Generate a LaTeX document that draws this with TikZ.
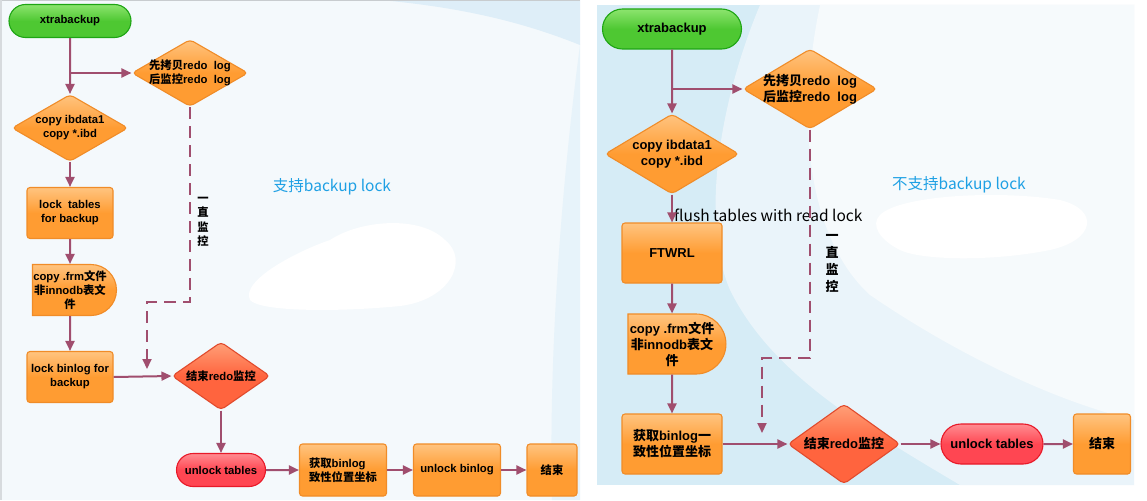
\documentclass[tikz,border=0pt]{standalone}
\usepackage{fontspec}
\setmainfont{Liberation Sans}
\newfontfamily\cjk{Noto Sans CJK SC}
\newcommand\zh[1]{{\cjk #1}}
\usetikzlibrary{shapes.geometric,shapes.misc,arrows.meta,calc}
\definecolor{arrc}{RGB}{160,78,110}
\definecolor{obord}{RGB}{240,140,40}
\definecolor{otop}{RGB}{255,196,128}
\definecolor{omid}{RGB}{255,156,50}
\definecolor{gbord}{RGB}{30,165,20}
\definecolor{gtop}{RGB}{140,228,110}
\definecolor{gmid}{RGB}{78,200,50}
\definecolor{rbord}{RGB}{232,25,40}
\definecolor{rtop}{RGB}{255,140,145}
\definecolor{rmid}{RGB}{255,70,82}
\definecolor{dbord}{RGB}{225,75,45}
\definecolor{dtop}{RGB}{255,160,120}
\definecolor{dmid}{RGB}{255,100,62}
\definecolor{bluet}{RGB}{30,160,228}
\definecolor{lbg}{RGB}{244,249,252}
\definecolor{lband}{RGB}{222,238,248}
\definecolor{rbg}{RGB}{214,236,246}
\definecolor{rlight}{RGB}{234,244,250}
\definecolor{rwhite}{RGB}{246,250,252}
\tikzset{
  arr/.style={draw=arrc, line width=2pt, -{Triangle[length=10pt,width=9pt]}},
  dasharr/.style={arr, dash pattern=on 12pt off 7pt},
  basebox/.style={draw, line width=1.1pt, text=black, align=center, inner sep=1pt},
  lf/.style={font=\bfseries\fontsize{11.3}{14}\selectfont},
  rf/.style={font=\bfseries\fontsize{13}{16}\selectfont},
  obox/.style={basebox, draw=obord, top color=otop, bottom color=omid, middle color=omid, rounded corners=3pt},
  ofrm/.style={basebox, draw=obord, top color=otop, bottom color=omid, middle color=omid, rounded rectangle, rounded rectangle west arc=none},
  gpill/.style={basebox, draw=gbord, top color=gtop, bottom color=gmid, middle color=gmid, rounded rectangle},
  rpill/.style={basebox, draw=rbord, top color=rtop, bottom color=rmid, middle color=rmid, rounded rectangle},
  odiam/.style={basebox, draw=obord, top color=otop, bottom color=omid, middle color=omid, diamond, inner sep=0pt, rounded corners=4pt},
  rdiam/.style={basebox, draw=dbord, top color=dtop, bottom color=dmid, middle color=dmid, diamond, inner sep=0pt, rounded corners=4pt},
  ldt/.style={text=black, align=center, lf},
  rdt/.style={text=black, align=center, rf},
  vtext/.style={text=black, align=center, inner sep=0pt},
  btext/.style={text=bluet, font=\cjk\fontsize{15.5}{17}\selectfont, inner sep=0pt},
}
\begin{document}
\begin{tikzpicture}[x=1pt,y=-1pt]
\useasboundingbox (0,0) rectangle (1147,500);
\fill[white] (0,0) rectangle (1147,500);
% left panel background
\fill[lbg] (0,0) rectangle (580,500);
\fill[lband] (380,0) .. controls (470,8) and (530,25) .. (580,45) -- (580,0) -- cycle;
\fill[lband!60!lbg] (580,45) .. controls (566,150) and (548,330) .. (552,500) -- (580,500) -- cycle;
\fill[black!18!lbg] (0,0) rectangle (580,1.5);
\fill[black!12!lbg] (0,0) rectangle (1.5,500);
\fill[white] (250,300) .. controls (240,280) and (300,250) .. (330,240) .. controls (360,220) and (420,215) .. (445,240) .. controls (470,260) and (450,300) .. (400,306) .. controls (340,312) and (260,312) .. (250,300) -- cycle;
% right panel background
\fill[rbg] (597,5) rectangle (1134,485);
\fill[rlight] (760,5) .. controls (720,100) and (700,220) .. (730,290) .. controls (770,370) and (850,420) .. (960,485) -- (1134,485) -- (1134,5) -- cycle;
\fill[rwhite] (820,5) .. controls (790,150) and (820,250) .. (870,295) .. controls (950,350) and (1050,400) .. (1134,420) -- (1134,5) -- cycle;
\fill[white] (880,215) .. controls (900,195) and (1000,190) .. (1060,200) .. controls (1100,210) and (1095,240) .. (1050,250) .. controls (990,262) and (920,260) .. (900,250) .. controls (880,240) and (870,225) .. (880,215) -- cycle;

% ---------- left panel ----------
\node[gpill, lf, minimum width=124pt, minimum height=33pt] (xb1) at (70,21) {xtrabackup};
\node[odiam, minimum width=116pt, minimum height=67pt,
  label={[ldt]center:{\zh{先拷贝}redo~ log\\\zh{后监控}redo~ log}}] (redo1) at (190,73) {};
\node[odiam, minimum width=116pt, minimum height=67pt,
  label={[ldt]center:{copy ibdata1\\copy *.ibd}}] (cp1) at (70,128) {};
\node[obox, lf, minimum width=86pt, minimum height=51pt] (lt1) at (70,213) {lock~ tables\\for backup};
\node[ofrm, lf, minimum width=86pt, minimum height=51pt] (frm1) at (70,290) {copy .frm\zh{文件}\\\zh{非}innodb\zh{表文}\\\zh{件}};
\node[obox, lf, minimum width=86pt, minimum height=51pt] (lb1) at (70,377) {lock binlog for\\backup};
\node[rdiam, minimum width=98pt, minimum height=68pt,
  label={[ldt]center:{\zh{结束}redo\zh{监控}}}] (end1) at (221,376) {};
\node[rpill, lf, minimum width=91pt, minimum height=33pt] (ul1) at (221,470) {unlock tables};
\node[obox, lf, align=left, minimum width=87pt, minimum height=52pt] (gb1) at (343,470) {\zh{获取}binlog\\\zh{致性位置坐标}};
\node[obox, lf, minimum width=87pt, minimum height=52pt] (ub1) at (457,470) {unlock binlog};
\node[obox, lf, minimum width=50pt, minimum height=52pt] (fin1) at (552,470) {\zh{结束}};
\node[vtext, font=\cjk\bfseries\fontsize{11.3}{14.5}\selectfont] (mon1) at (203,222) {一\\直\\监\\控};
\node[btext] (t1) at (332,187) {支持backup lock};

\draw[arr] (xb1) -- (cp1);
\draw[arr] (xb1.south |- redo1.west) -- (redo1.west);
\draw[arr] (cp1) -- (lt1);
\draw[arr] (lt1) -- (frm1);
\draw[arr] (frm1) -- (lb1);
\draw[arr] (lb1.east) -- (end1.west);
\draw[arr] (end1) -- (ul1);
\draw[arr] (ul1) -- (gb1);
\draw[arr] (gb1) -- (ub1);
\draw[arr] (ub1) -- (fin1);
\coordinate (dk1) at (147,302);
\coordinate (dt1) at (147,369);
\draw[dasharr] (redo1.south) |- (dk1) -- (dt1);

% ---------- right panel ----------
\node[gpill, rf, minimum width=141pt, minimum height=40pt] (xb2) at (672,29) {xtrabackup};
\node[odiam, minimum width=134pt, minimum height=80pt,
  label={[rdt]center:{\zh{先拷贝}redo~ log\\\zh{后监控}redo~ log}}] (redo2) at (810,89) {};
\node[odiam, minimum width=134pt, minimum height=80pt,
  label={[rdt]center:{copy ibdata1\\copy *.ibd}}] (cp2) at (672,154) {};
\node[obox, rf, minimum width=100pt, minimum height=60pt] (ft2) at (672,253) {FTWRL};
\node[ofrm, rf, minimum width=100pt, minimum height=60pt] (frm2) at (672,344) {copy .frm\zh{文件}\\\zh{非}innodb\zh{表文}\\\zh{件}};
\node[obox, rf, minimum width=100pt, minimum height=60pt] (gb2) at (672,444) {\zh{获取}binlog\zh{一}\\\zh{致性位置坐标}};
\node[rdiam, minimum width=112pt, minimum height=80pt,
  label={[rdt]center:{\zh{结束}redo\zh{监控}}}] (end2) at (844,444) {};
\node[rpill, rf, minimum width=104pt, minimum height=40pt] (ul2) at (992,444) {unlock tables};
\node[obox, rf, minimum width=57pt, minimum height=60pt] (fin2) at (1102,444) {\zh{结束}};
\node[vtext, font=\cjk\bfseries\fontsize{13}{17}\selectfont] (mon2) at (832,263) {一\\直\\监\\控};
\node[btext] (t2) at (959,185) {不支持backup lock};
\node[anchor=west, inner sep=0pt, text=black, font=\cjk\fontsize{15.5}{17}\selectfont] (fl2) at (674,215) {flush tables with read lock};

\draw[arr] (xb2) -- (cp2);
\draw[arr] (xb2.south |- redo2.west) -- (redo2.west);
\draw[arr] (cp2) -- (ft2);
\draw[arr] (ft2) -- (frm2);
\draw[arr] (frm2) -- (gb2);
\draw[arr] (gb2) -- (end2);
\draw[arr] (end2) -- (ul2);
\draw[arr] (ul2) -- (fin2);
\coordinate (dk2) at (762,358);
\coordinate (dt2) at (762,433);
\draw[dasharr] (redo2.south) |- (dk2) -- (dt2);
\end{tikzpicture}
\end{document}
